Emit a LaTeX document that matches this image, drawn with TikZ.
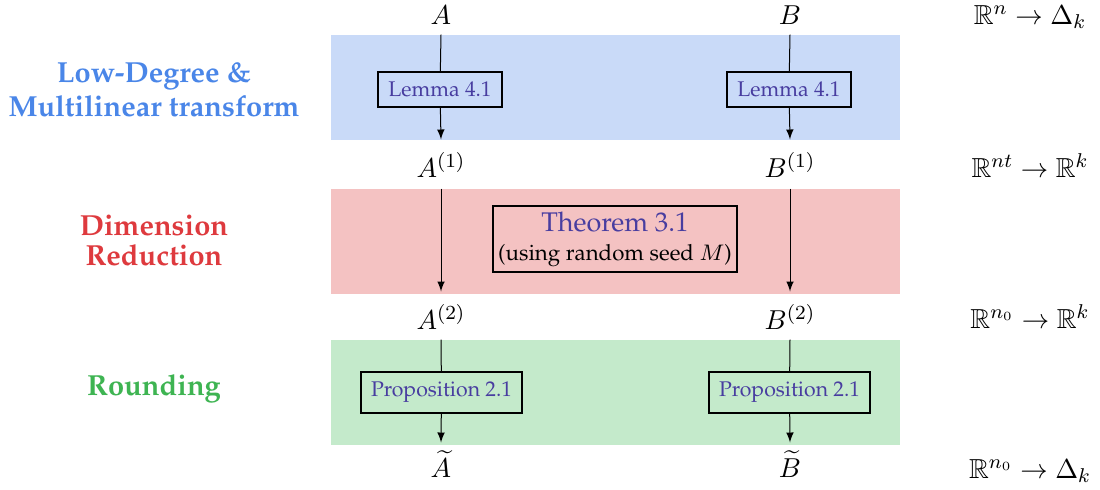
\documentclass[tikz,border=0pt]{standalone}
\usepackage[T1]{fontenc}
\renewcommand{\rmdefault}{ppl}
\usepackage{amssymb}
\usepackage{amsmath}
\usepackage{tikz}
\usetikzlibrary{positioning}
\usetikzlibrary{calc}

\definecolor{bandblue}{RGB}{201,218,248}
\definecolor{bandred}{RGB}{244,194,194}
\definecolor{bandgreen}{RGB}{196,234,203}
\definecolor{stageblue}{RGB}{74,134,232}
\definecolor{stagered}{RGB}{222,58,62}
\definecolor{stagegreen}{RGB}{62,180,82}
\definecolor{refcol}{RGB}{72,61,160}

\tikzset{
    band/.style={fill=#1, draw=none, inner sep=0pt, minimum width=227.6pt, minimum height=42pt},
    stage/.style={text=#1, align=center, font=\fontsize{11.6}{13.4}\selectfont\bfseries},
    lab/.style={anchor=base, inner sep=0pt, font=\fontsize{11}{13}\selectfont},
    refbox/.style={draw, line width=0.8pt, fill=#1, text=refcol, inner sep=0pt, font=\fontsize{8.5}{10}\selectfont},
    flow/.style={-latex, line width=0.4pt},
}

\begin{document}
\begin{tikzpicture}[x=0.4pt, y=-0.4pt]
    \useasboundingbox (0,0) rectangle (1100,489);

    % bands
    \node[band=bandblue] (blue) at (615.5,87.5) {};
    \node[band=bandred] (red) at (615.5,241.5) {};
    \node[band=bandgreen] (green) at (615.5,392.5) {};

    % stage names
    \node[stage=stageblue] (s1) at (154,90) {Low-Degree \&\\Multilinear transform};
    \node[stage=stagered, font=\fontsize{11.6}{12}\selectfont\bfseries] (s2) at (154,241) {Dimension\\Reduction};
    \node[stage=stagegreen] (s3) at (154,389) {Rounding};

    % players
    \node[lab] (a0) at (441,24) {$A$};
    \node[lab] (b0) at (790,24) {$B$};
    \node[lab] (a1) at (441,177) {$A^{(1)}$};
    \node[lab] (b1) at (790,177) {$B^{(1)}$};
    \node[lab] (a2) at (441,329) {$A^{(2)}$};
    \node[lab] (b2) at (790,329) {$B^{(2)}$};
    \node[lab] (a3) at (441,477) {$\widetilde{A}$};
    \node[lab] (b3) at (790,477) {$\widetilde{B}$};

    % maps
    \node[lab] (m0) at (1030,24) {$\mathbb{R}^n \to \Delta_k$};
    \node[lab] (m1) at (1030,177) {$\mathbb{R}^{nt} \to \mathbb{R}^k$};
    \node[lab] (m2) at (1030,328) {$\mathbb{R}^{n_0} \to \mathbb{R}^k$};
    \node[lab] (m3) at (1030,478) {$\mathbb{R}^{n_0} \to \Delta_k$};

    % results used
    \node[refbox=bandblue, minimum width=49.6pt, minimum height=14pt] (lemA) at (440,89.5) {Lemma 4.1};
    \node[refbox=bandblue, minimum width=49.6pt, minimum height=14pt] (lemB) at (789,89.5) {Lemma 4.1};
    \node[refbox=bandred, minimum width=97.6pt, minimum height=26.4pt, align=center] (thm) at (615,239)
        {{\fontsize{10.8}{12}\selectfont Theorem 3.1}\\[1.5pt]
         {\color{black}\fontsize{8.9}{11}\selectfont (using random seed $M$)}};
    \node[refbox=bandgreen, minimum width=64.4pt, minimum height=16.4pt] (propA) at (441.5,392.5) {Proposition 2.1};
    \node[refbox=bandgreen, minimum width=64.4pt, minimum height=16.4pt] (propB) at (789.5,392.5) {Proposition 2.1};

    \draw (blue.north -| a0) -- (lemA);
    \draw[flow] (lemA) -- ($(blue.south -| a0)+(0,-1)$);
    \draw (blue.north -| b0) -- (lemB);
    \draw[flow] (lemB) -- ($(blue.south -| b0)+(0,-1)$);

    \draw[flow] (red.north -| a1) -- ($(red.south -| a1)+(0,-3)$);
    \draw[flow] (red.north -| b1) -- ($(red.south -| b1)+(0,-3)$);

    \draw (green.north -| a2) -- (propA);
    \draw[flow] (propA) -- ($(green.south -| a2)+(0,-3)$);
    \draw (green.north -| b2) -- (propB);
    \draw[flow] (propB) -- ($(green.south -| b2)+(0,-3)$);
\end{tikzpicture}
\end{document}
